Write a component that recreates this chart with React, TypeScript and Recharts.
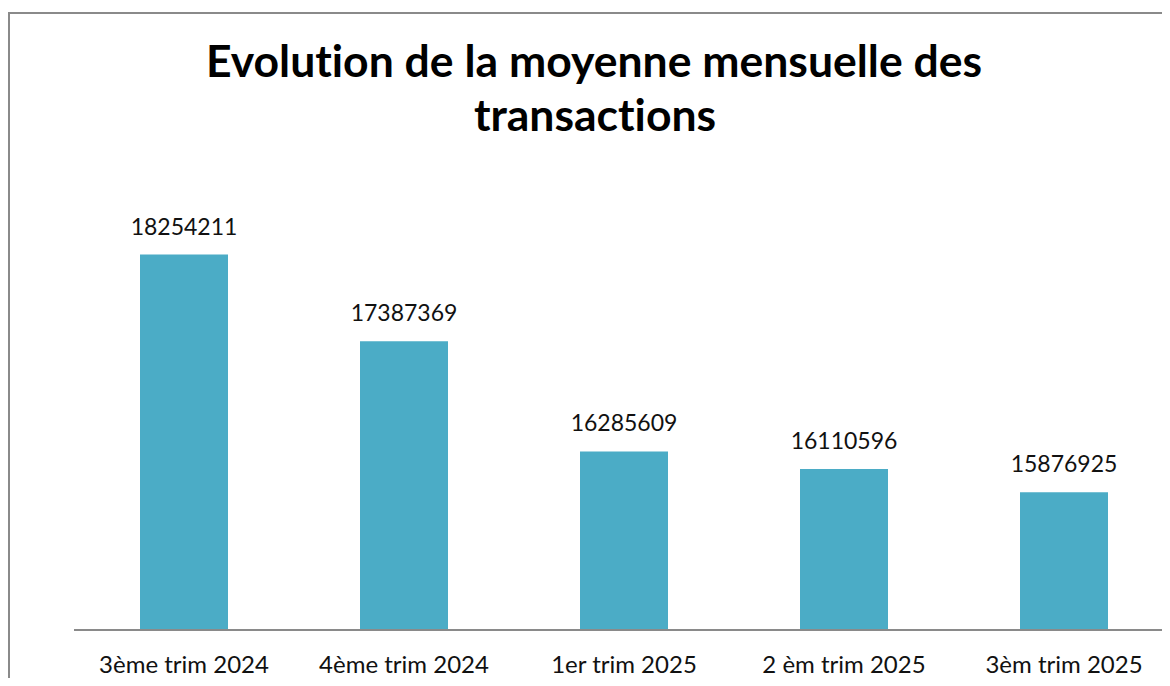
import React from "react";
import { BarChart, Bar, XAxis, YAxis, LabelList } from "recharts";

const categories = ["3ème trim 2024", "4ème trim 2024", "1er trim 2025", "2 èm trim 2025", "3èm trim 2025"];
const values = [18254211, 17387369, 16285609, 16110596, 15876925];
const titleLines = ["Evolution de la moyenne mensuelle des", "transactions"];

const data = categories.map((c, i) => ({ name: c, value: values[i] }));

const FONT = "Lato, 'Open Sans', sans-serif";

const Tick = (props: any) => {
  const { x, y, payload } = props;
  return (
    <text x={x} y={y} dy={41} textAnchor="middle" fontFamily={FONT} fontSize={24} fill="#111">
      {payload.value}
    </text>
  );
};

export default function App() {
  const titleStyle = { fontVariantLigatures: "none" as const, fontFeatureSettings: '"liga" 0' };
  return (
    <div style={{ position: "relative", margin: -8, width: 1170, height: 686, overflow: "hidden", background: "#fff" }}>
      <div style={{ position: "absolute", left: 8, top: 12, width: 1200, height: 700, borderLeft: "2px solid #8a8a8a", borderTop: "2px solid #8a8a8a", boxSizing: "border-box" }} />
      <div style={{ position: "absolute", left: 0, top: 0 }}>
        <BarChart width={1180} height={686} data={data} margin={{ top: 180, right: 6, bottom: 16, left: 74 }} barCategoryGap="30%">
          <text x={594} y={77} textAnchor="middle" fontFamily={FONT} fontWeight={700} fontSize={44.5} fill="#000" style={titleStyle}>{titleLines[0]}</text>
          <text x={595} y={131} textAnchor="middle" fontFamily={FONT} fontWeight={700} fontSize={44.5} fill="#000" style={titleStyle}>{titleLines[1]}</text>
          <XAxis dataKey="name" height={40} tickLine={false} tickSize={0} tick={<Tick />} axisLine={{ stroke: "#8a8a8a", strokeWidth: 2 }} interval={0} />
          <YAxis hide domain={[14500000, 19000000]} allowDataOverflow />
          <Bar dataKey="value" fill="#4BACC6" isAnimationActive={false}>
            <LabelList dataKey="value" position="top" offset={20} fontFamily={FONT} fontSize={23} fill="#111" />
          </Bar>
        </BarChart>
      </div>
    </div>
  );
}
